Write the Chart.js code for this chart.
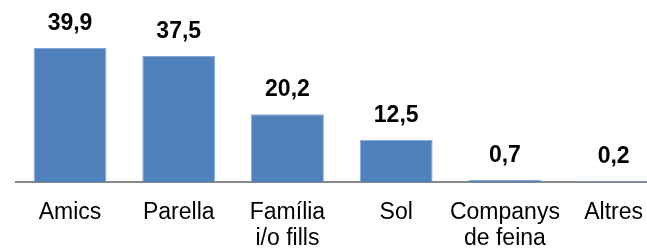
<!DOCTYPE html>
<html>
<head>
<meta charset="utf-8">
<script src="https://cdn.jsdelivr.net/npm/chart.js@4/dist/chart.umd.min.js"></script>
<style>
html,body{margin:0;padding:0;background:#fff;overflow:hidden;width:647px;height:249px;}
canvas{display:block;}
</style>
</head>
<body>
<canvas id="c" width="668" height="249"></canvas>
<script>
const categories = ['Amics', 'Parella', ['Família', 'i/o fills'], 'Sol', ['Companys', 'de feina'], 'Altres'];
const values = [39.9, 37.5, 20.2, 12.5, 0.7, 0.2];
const valueLabels = ['39,9', '37,5', '20,2', '12,5', '0,7', '0,2'];
const yMax = 50;

const FONT = "'Liberation Sans', Arial, sans-serif";

const valueLabelPlugin = {
  id: 'valueLabels',
  afterDatasetsDraw(chart) {
    const ctx = chart.ctx;
    const meta = chart.getDatasetMeta(0);
    ctx.save();
    ctx.font = "bold 23px " + FONT;
    ctx.fillStyle = '#000';
    ctx.textAlign = 'center';
    ctx.textBaseline = 'alphabetic';
    meta.data.forEach((bar, i) => {
      ctx.fillText(valueLabels[i], bar.x, bar.y - 18);
    });
    ctx.restore();
  }
};

new Chart(document.getElementById('c'), {
  type: 'bar',
  data: {
    labels: categories,
    datasets: [{
      data: values,
      backgroundColor: '#4F81BD',
      borderColor: '#86A8D3',
      borderWidth: 1,
      categoryPercentage: 1,
      barPercentage: 0.67
    }]
  },
  options: {
    responsive: false,
    devicePixelRatio: 1,
    animation: false,
    layout: { padding: { top: 14, left: 15.65, right: 0, bottom: 0 } },
    plugins: { legend: { display: false }, tooltip: { enabled: false } },
    scales: {
      x: {
        grid: { display: false },
        border: { display: true, color: '#878787', width: 2 },
        ticks: {
          color: '#000',
          font: { family: FONT, size: 23, lineHeight: 1.15 },
          padding: 9,
          maxRotation: 0,
          autoSkip: false
        },
        afterFit(scale) { scale.height = 67; }
      },
      y: {
        display: false,
        min: 0,
        max: yMax
      }
    }
  },
  plugins: [valueLabelPlugin]
});
</script>
</body>
</html>
